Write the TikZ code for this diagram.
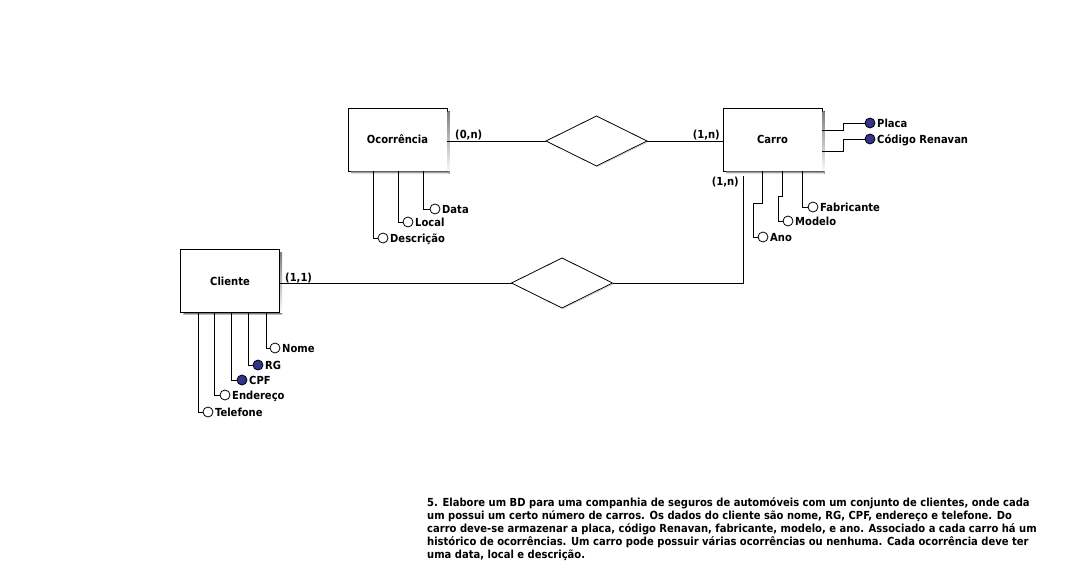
\documentclass[tikz,border=0pt]{standalone}
\usepackage{fontspec}
\setmainfont{DejaVu Sans Condensed}
\usetikzlibrary{shapes.geometric}

\definecolor{keyblue}{RGB}{51,51,140}
\definecolor{shade}{RGB}{165,165,165}

\tikzset{
  lbl/.style={font=\bfseries\fontsize{11.1}{13}\selectfont},
  entity/.style={lbl, draw, line width=1pt, rectangle, minimum width=99pt,
    minimum height=63pt, inner sep=0pt, outer sep=0pt, fill=white},
  rel/.style={draw, diamond, line width=0.8pt, inner sep=0pt, outer sep=0pt,
    minimum width=101pt, minimum height=50pt, fill=white},
  attr/.style={draw, circle, line width=0.8pt, minimum size=10pt,
    inner sep=0pt, outer sep=0pt, fill=white},
  keyattr/.style={attr, fill=keyblue},
  attrlabel/.style={lbl, anchor=west, inner sep=0pt, xshift=2pt,
    text height=8pt, text depth=0pt},
  card/.style={lbl, inner sep=0pt, text height=8pt, text depth=0pt},
  conn/.style={line width=1pt},
  desc/.style={lbl, anchor=base west, inner sep=0pt},
}

\begin{document}
\begin{tikzpicture}[x=1pt,y=-1pt]
  \fill[white] (0,0) rectangle (1082,570);
  \useasboundingbox (0,0) rectangle (1082,570);

  % entities
  \node[entity] (oc) at (397.5,139.5) {Ocorrência};
  \node[entity] (ca) at (772.5,139.5) {Carro};
  \node[entity] (cl) at (230,281) {Cliente};
  \foreach \e in {oc,ca,cl} {
    \fill[shade] ([shift={(0.5,3)}]\e.north east) rectangle ([shift={(2.5,2.5)}]\e.south east);
    \fill[shade] ([shift={(3,0.5)}]\e.south west) rectangle ([shift={(2.5,2.5)}]\e.south east);
  }

  % relationships
  \node[rel] (r1) at (596.5,141) {};
  \node[rel] (r2) at (562,283) {};
  \foreach \r in {r1,r2} {
    \draw[shade!70, line width=0.6pt] ([shift={(0.2,1.1)}]\r.east) -- ([shift={(0.2,1.1)}]\r.south);
  }

  % relationship lines
  \draw[conn] (r1.west -| oc.east) -- (r1.west);
  \draw[conn] (r1.east) -- (r1.east -| ca.west);
  \draw[conn] (r2.west -| cl.east) -- (r2.west);
  \draw[conn] (r2.east) -| ([shift={(20,5)}]ca.south west);

  % cardinalities
  \node[card, anchor=west] (k1) at (455,134.5) {(0,n)};
  \node[card, anchor=east] (k2) at (720,134.5) {(1,n)};
  \node[card, anchor=east] (k3) at (739,181) {(1,n)};
  \node[card, anchor=west] (k4) at (285,277) {(1,1)};

  % attributes of Ocorrência
  \node[attr] (data) at (435,209) {};
  \node[attr] (local) at (408,222) {};
  \node[attr] (descr) at (383,238) {};
  \node[attrlabel] (tdata) at (data.east) {Data};
  \node[attrlabel] (tlocal) at (local.east) {Local};
  \node[attrlabel] (tdescr) at (descr.east) {Descrição};
  \draw[conn] ([xshift=75pt]oc.south west) |- (data);
  \draw[conn] ([xshift=50pt]oc.south west) |- (local);
  \draw[conn] ([xshift=25pt]oc.south west) |- (descr);

  % attributes of Carro
  \node[keyattr] (placa) at (870,123) {};
  \node[keyattr] (renavan) at (870,139) {};
  \node[attrlabel] (tplaca) at (placa.east) {Placa};
  \node[attrlabel] (trenavan) at (renavan.east) {Código Renavan};
  \draw[conn] ([yshift=9.5pt]ca.east) -- ++(21,0) |- (placa);
  \draw[conn] ([yshift=-11.5pt]ca.east) -- ++(21,0) |- (renavan);

  \node[attr] (fab) at (813,207) {};
  \node[attr] (modelo) at (788,221) {};
  \node[attr] (ano) at (763,237) {};
  \node[attrlabel] (tfab) at (fab.east) {Fabricante};
  \node[attrlabel] (tmodelo) at (modelo.east) {Modelo};
  \node[attrlabel] (tano) at (ano.east) {Ano};
  \draw[conn] ([xshift=79pt]ca.south west) |- (fab);
  \draw[conn] ([xshift=59pt]ca.south west) -- ++(0,25) -- ++(-4,0) |- (modelo);
  \draw[conn] ([xshift=39pt]ca.south west) -- ++(0,32) -- ++(-9,0) |- (ano);

  % attributes of Cliente
  \node[attr] (nome) at (275,348) {};
  \node[keyattr] (rg) at (258,365) {};
  \node[keyattr] (cpf) at (242,380) {};
  \node[attr] (ender) at (225,395) {};
  \node[attr] (tel) at (208,412) {};
  \node[attrlabel] (tnome) at (nome.east) {Nome};
  \node[attrlabel] (trg) at (rg.east) {RG};
  \node[attrlabel] (tcpf) at (cpf.east) {CPF};
  \node[attrlabel] (tender) at (ender.east) {Endereço};
  \node[attrlabel] (ttel) at (tel.east) {Telefone};
  \draw[conn] ([xshift=86pt]cl.south west) |- (nome);
  \draw[conn] ([xshift=68pt]cl.south west) |- (rg);
  \draw[conn] ([xshift=51pt]cl.south west) |- (cpf);
  \draw[conn] ([xshift=34pt]cl.south west) |- (ender);
  \draw[conn] ([xshift=18pt]cl.south west) |- (tel);

  % problem statement
  \node[desc] (d1) at (427,506) {5. Elabore um BD para uma companhia de seguros de automóveis com um conjunto de clientes, onde cada};
  \node[desc] (d2) at (427,519) {um possui um certo número de carros. Os dados do cliente são nome, RG, CPF, endereço e telefone. Do};
  \node[desc] (d3) at (427,532) {carro deve-se armazenar a placa, código Renavan, fabricante, modelo, e ano. Associado a cada carro há um};
  \node[desc] (d4) at (427,545) {histórico de ocorrências. Um carro pode possuir várias ocorrências ou nenhuma. Cada ocorrência deve ter};
  \node[desc] (d5) at (427,558) {uma data, local e descrição.};
\end{tikzpicture}
\end{document}
